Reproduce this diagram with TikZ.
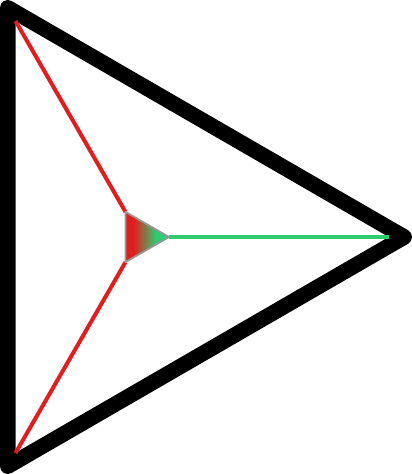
\documentclass[tikz,border=0pt]{standalone}
\definecolor{lred}{RGB}{224,30,30}
\definecolor{lgreen}{RGB}{46,204,113}
\definecolor{lgray}{RGB}{150,150,150}
\pgfdeclarehorizontalshading{rg}{100bp}{color(0bp)=(lred); color(34bp)=(lred); color(60bp)=(lgreen); color(100bp)=(lgreen)}
\tikzset{
  frame/.style={line width=15.5pt, line join=round, draw=black},
  redline/.style={draw=lred, line width=4pt},
  greenline/.style={draw=lgreen, line width=4pt},
  core/.style={shading=rg, draw=lgray, line width=1.8pt, line join=round}
}
\begin{document}
\begin{tikzpicture}[x=1pt,y=-1pt]
\useasboundingbox (0,0) rectangle (412,474);
% outer triangle
\coordinate (P) at (7.75,7.75);
\coordinate (Q) at (7.75,466.25);
\coordinate (R) at (404.25,237);
\draw[frame] (P) -- (R) -- (Q) -- cycle;
% inner corners
\coordinate (A) at (15.5,21);
\coordinate (B) at (15.5,453);
\coordinate (C) at (389,237);
% small triangle vertices
\coordinate (T1) at (125.5,211.9);
\coordinate (T2) at (125.5,262.1);
\coordinate (T3) at (169,237);
\draw[redline] (A) -- (T1);
\draw[redline] (B) -- (T2);
\draw[greenline] (C) -- (T3);
\shadedraw[core] (T1) -- (T3) -- (T2) -- cycle;
\end{tikzpicture}
\end{document}
